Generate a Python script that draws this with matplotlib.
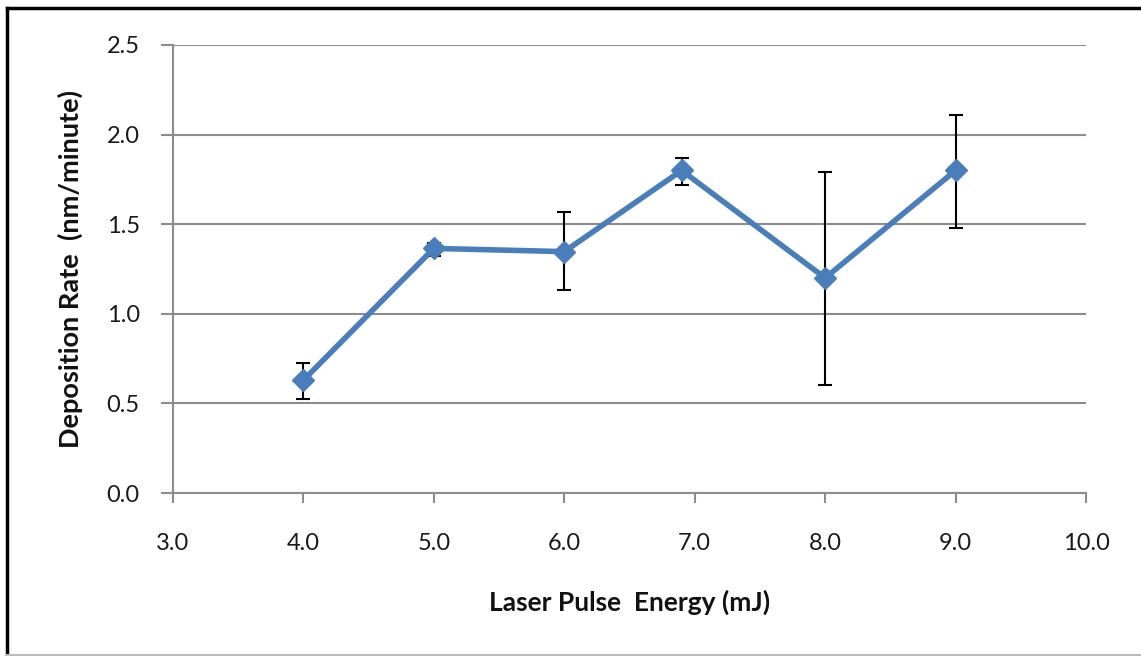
import matplotlib
matplotlib.use("Agg")
import matplotlib.pyplot as plt
from matplotlib.lines import Line2D

# Data
energy = [4.0, 5.0, 6.0, 6.9, 8.0, 9.0]
rate = [0.63, 1.365, 1.347, 1.80, 1.20, 1.80]
err_low = [0.525, 1.325, 1.133, 1.72, 0.60, 1.477]
err_high = [0.725, 1.397, 1.568, 1.868, 1.793, 2.109]
x_ticks = [3.0, 4.0, 5.0, 6.0, 7.0, 8.0, 9.0, 10.0]
y_ticks = [0.0, 0.5, 1.0, 1.5, 2.0, 2.5]
x_label = "Laser Pulse  Energy (mJ)"
y_label = "Deposition Rate  (nm/minute)"

plt.rcParams['font.family'] = ['Lato', 'DejaVu Sans']

W, H = 1141, 656
fig = plt.figure(figsize=(W / 100, H / 100), dpi=100)
ax = fig.add_axes([173 / W, 1 - 493 / H, (1086 - 173) / W, (493 - 45) / H])

lower = [r - l for r, l in zip(rate, err_low)]
upper = [h - r for r, h in zip(rate, err_high)]
ax.errorbar(energy, rate, yerr=[lower, upper], fmt='none', ecolor='black',
            elinewidth=1.5, capsize=5, capthick=1.5, zorder=3)
ax.plot(energy, rate, color='#4A7EBB', linewidth=4, marker='D', markersize=11,
        markerfacecolor='#4A7EBB', markeredgecolor='#4A7EBB', zorder=4,
        solid_joinstyle='round')

ax.set_xlim(3.0, 10.0)
ax.set_ylim(0.0, 2.5)
ax.set_xticks(x_ticks)
ax.set_yticks(y_ticks)
ax.set_xticklabels([f"{v:.1f}" for v in x_ticks])
ax.set_yticklabels([f"{v:.1f}" for v in y_ticks])
ax.yaxis.grid(True, color='#8C8C8C', linewidth=1.5)
ax.set_axisbelow(True)
for s in ['top', 'right']:
    ax.spines[s].set_visible(False)
for s in ['left', 'bottom']:
    ax.spines[s].set_color('#8C8C8C')
    ax.spines[s].set_linewidth(1.5)
ax.tick_params(axis='x', direction='out', length=7, width=1.5, color='#8C8C8C',
               labelsize=17, pad=22, labelcolor='#1a1a1a')
ax.tick_params(axis='y', direction='out', length=9, width=1.5, color='#8C8C8C',
               labelsize=17, pad=15, labelcolor='#1a1a1a')
ax.set_xlabel(x_label, fontsize=19, fontweight='bold', color='#111111')
ax.set_ylabel(y_label, fontsize=19.5, fontweight='bold', color='#111111')
ax.xaxis.set_label_coords(0.5, (493 - 602) / 448)
ax.xaxis.label.set_va('center')
ax.yaxis.set_label_coords((70 - 173) / 913, 0.5)
ax.yaxis.label.set_va('center')

# outer border
fig.add_artist(Line2D([7 / W, 7 / W], [0, 1 - 8 / H], transform=fig.transFigure,
                      color='black', linewidth=2.5))
fig.add_artist(Line2D([7 / W, 1], [1 - 8 / H, 1 - 8 / H], transform=fig.transFigure,
                      color='black', linewidth=2.5))
fig.add_artist(Line2D([7 / W, 1], [1 - 655 / H, 1 - 655 / H], transform=fig.transFigure,
                      color='#BBBBBB', linewidth=1.5))

fig.savefig("out.png", dpi=100)
